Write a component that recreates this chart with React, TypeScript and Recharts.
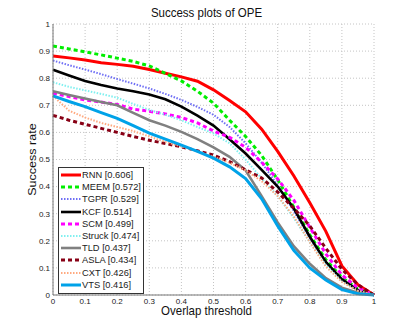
import { LineChart, Line, XAxis, YAxis, CartesianGrid, Legend } from 'recharts';

const thresholds = [0, 0.05, 0.1, 0.15, 0.2, 0.25, 0.3, 0.35, 0.4, 0.45, 0.5, 0.55, 0.6, 0.65, 0.7, 0.75, 0.8, 0.85, 0.9, 0.95, 1];

const trackers = ['RNN', 'MEEM', 'TGPR', 'KCF', 'SCM', 'Struck', 'TLD', 'ASLA', 'CXT', 'VTS'];
const aucScores = ['0.606', '0.572', '0.529', '0.514', '0.499', '0.474', '0.437', '0.434', '0.426', '0.416'];

const rnn = [0.882, 0.875, 0.867, 0.857, 0.851, 0.844, 0.832, 0.818, 0.805, 0.789, 0.757, 0.718, 0.676, 0.612, 0.53, 0.44, 0.34, 0.235, 0.107, 0.038, 0];
const meem = [0.919, 0.908, 0.897, 0.886, 0.874, 0.862, 0.845, 0.818, 0.79, 0.752, 0.708, 0.645, 0.585, 0.515, 0.425, 0.325, 0.222, 0.13, 0.065, 0.022, 0];
const tgpr = [0.865, 0.848, 0.832, 0.815, 0.797, 0.78, 0.762, 0.742, 0.72, 0.694, 0.665, 0.62, 0.56, 0.488, 0.405, 0.31, 0.21, 0.12, 0.058, 0.018, 0];
const kcf = [0.831, 0.81, 0.79, 0.775, 0.762, 0.752, 0.74, 0.722, 0.695, 0.662, 0.625, 0.575, 0.522, 0.462, 0.4, 0.32, 0.215, 0.122, 0.058, 0.018, 0];
const scm = [0.745, 0.732, 0.72, 0.712, 0.703, 0.686, 0.678, 0.668, 0.655, 0.635, 0.605, 0.582, 0.545, 0.49, 0.428, 0.35, 0.25, 0.152, 0.074, 0.026, 0];
const struck = [0.785, 0.768, 0.755, 0.742, 0.728, 0.705, 0.683, 0.665, 0.645, 0.62, 0.596, 0.56, 0.5, 0.43, 0.365, 0.285, 0.195, 0.11, 0.05, 0.016, 0];
const tld = [0.752, 0.738, 0.725, 0.712, 0.7, 0.672, 0.645, 0.625, 0.602, 0.575, 0.545, 0.51, 0.46, 0.365, 0.268, 0.18, 0.115, 0.062, 0.027, 0.008, 0];
const asla = [0.663, 0.645, 0.63, 0.615, 0.6, 0.585, 0.571, 0.559, 0.547, 0.532, 0.516, 0.492, 0.462, 0.432, 0.38, 0.32, 0.255, 0.172, 0.095, 0.038, 0];
const cxt = [0.735, 0.68, 0.655, 0.635, 0.62, 0.605, 0.585, 0.565, 0.548, 0.53, 0.51, 0.488, 0.46, 0.42, 0.365, 0.29, 0.195, 0.105, 0.048, 0.015, 0];
const vts = [0.735, 0.714, 0.695, 0.673, 0.652, 0.625, 0.597, 0.575, 0.553, 0.53, 0.505, 0.473, 0.43, 0.355, 0.255, 0.165, 0.1, 0.055, 0.02, 0.005, 0];

const tickValues = [0, 0.1, 0.2, 0.3, 0.4, 0.5, 0.6, 0.7, 0.8, 0.9, 1];

const seriesValues = [rnn, meem, tgpr, kcf, scm, struck, tld, asla, cxt, vts];

const data = thresholds.map((t, i) => {
  const row: Record<string, number> = { t };
  trackers.forEach((name, k) => {
    row[name] = seriesValues[k][i];
  });
  return row;
});

const styles: Record<string, { color: string; width: number; dash?: string }> = {
  RNN: { color: '#ff0000', width: 3 },
  MEEM: { color: '#00ee00', width: 3, dash: '4 3' },
  TGPR: { color: '#6f6ff5', width: 2, dash: '1.5 1.5' },
  KCF: { color: '#000000', width: 2.6 },
  SCM: { color: '#ff00ff', width: 3, dash: '4 3' },
  Struck: { color: '#80f0f0', width: 2, dash: '1.5 1.5' },
  TLD: { color: '#808080', width: 2.6 },
  ASLA: { color: '#880015', width: 3, dash: '4 3' },
  CXT: { color: '#ffaa80', width: 2, dash: '1.5 1.5' },
  VTS: { color: '#00a2e8', width: 3 },
};

const FONT = '"Liberation Sans", Arial, Helvetica, sans-serif';

const fmt = (v: number) => (v === 0 ? '0' : v === 1 ? '1' : v.toFixed(1));

const LegendBox = () => (
  <div
    style={{
      border: '1px solid #333',
      background: '#fff',
      width: 84,
      padding: '1px 0 2px 0',
      fontFamily: FONT,
      fontSize: 9.3,
      color: '#222',
    }}
  >
    {trackers.map((name, k) => {
      const s = styles[name];
      return (
        <div key={name} style={{ display: 'flex', alignItems: 'center', height: 12.2 }}>
          <svg width={22} height={10} style={{ marginLeft: 1 }}>
            <line x1={1} y1={5} x2={21} y2={5} stroke={s.color} strokeWidth={s.width} strokeDasharray={s.dash} />
          </svg>
          <span style={{ whiteSpace: 'nowrap' }}>{`${name} [${aucScores[k]}]`}</span>
        </div>
      );
    })}
  </div>
);

export default function App() {
  return (
    <div style={{ position: 'absolute', left: 0, top: 0, width: 413, height: 332, background: '#fff', fontFamily: FONT }}>
      <div
        style={{
          position: 'absolute',
          left: 0,
          width: 413,
          top: 7,
          lineHeight: '13px',
          textAlign: 'center',
          fontSize: 11.5,
          color: '#111',
          transform: 'scaleY(1.09)',
        }}
      >
        Success plots of OPE
      </div>
      <LineChart width={413} height={332} data={data} margin={{ top: 24, right: 39, bottom: 0, left: 0 }}>
        <CartesianGrid stroke="#c4c4c4" strokeDasharray="1 2" />
        <XAxis
          dataKey="t"
          type="number"
          domain={[0, 1]}
          ticks={tickValues}
          tickFormatter={fmt}
          height={37}
          stroke="#777"
          tickLine={false}
          tickSize={0}
          tickMargin={3}
          tick={{ fontSize: 8, fill: '#222', fontFamily: FONT }}
        />
        <XAxis xAxisId="top" orientation="top" dataKey="t" type="number" domain={[0, 1]} height={0} tick={false} tickLine={false} stroke="#777" />
        <YAxis
          type="number"
          domain={[0, 1]}
          ticks={tickValues}
          tickFormatter={fmt}
          width={53}
          stroke="#777"
          tickLine={false}
          tickSize={0}
          tickMargin={3}
          tick={{ fontSize: 8, fill: '#222', fontFamily: FONT }}
        />
        <YAxis yAxisId="right" orientation="right" type="number" domain={[0, 1]} width={0} tick={false} tickLine={false} stroke="#777" />
        {trackers.map((name) => (
          <Line
            key={name}
            dataKey={name}
            type="linear"
            stroke={styles[name].color}
            strokeWidth={styles[name].width}
            strokeDasharray={styles[name].dash}
            dot={false}
            isAnimationActive={false}
          />
        ))}
        <Legend
          layout="vertical"
          align="center"
          verticalAlign="middle"
          content={() => <LegendBox />}
          wrapperStyle={{ position: 'absolute', left: 58, top: 167, width: 86, height: 124 }}
        />
      </LineChart>
      <div
        style={{
          position: 'absolute',
          left: 0,
          width: 413,
          top: 306,
          lineHeight: '11px',
          textAlign: 'center',
          fontSize: 11.5,
          color: '#111',
          transform: 'scaleY(1.09)',
        }}
      >
        Overlap threshold
      </div>
      <div
        style={{
          position: 'absolute',
          left: -18,
          top: 153,
          width: 100,
          height: 13,
          lineHeight: '13px',
          textAlign: 'center',
          transform: 'rotate(-90deg) scaleX(1.09)',
          whiteSpace: 'nowrap',
          fontSize: 11.5,
          color: '#111',
        }}
      >
        Success rate
      </div>
    </div>
  );
}
